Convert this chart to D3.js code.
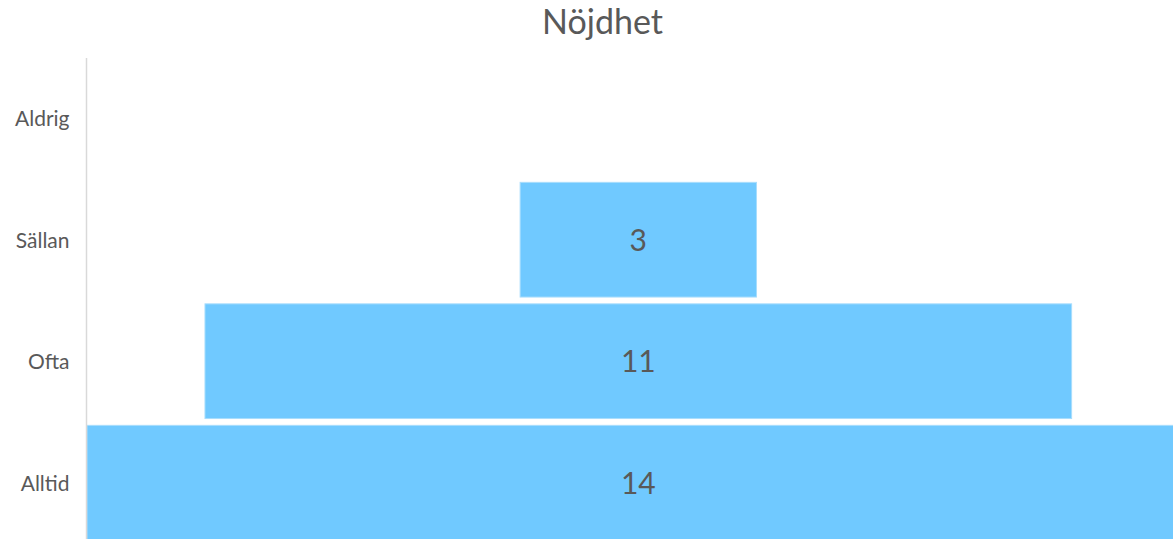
<!DOCTYPE html>
<html><head><meta charset="utf-8">
<script src="https://cdn.jsdelivr.net/npm/d3@7"></script>
<style>html,body{margin:0;padding:0;background:#fff;overflow:hidden}</style>
</head><body>
<svg id="c" width="1173" height="539"></svg>
<script>
const categories = ["Aldrig", "Sällan", "Ofta", "Alltid"];
const values = [0, 3, 11, 14];
const title = "Nöjdhet";

const W = 1173, H = 539;
const svg = d3.select("#c");
const font = "Lato, 'Open Sans', sans-serif";
const textColor = "#595959";

const axisX = 86.5;
const centerX = 638.3;
const y = d3.scaleBand().domain(categories).range([57.45, 543.45]).paddingInner(0.056).paddingOuter(0.028);
const w = d3.scaleLinear().domain([0, d3.max(values)]).range([0, 1103]);

svg.append("text").attr("x", 602.5).attr("y", 34).attr("text-anchor", "middle")
  .attr("font-family", font).attr("font-size", 34).attr("fill", textColor).text(title);

const data = categories.map((c, i) => ({c, v: values[i]}));

svg.append("clipPath").attr("id", "plot").append("rect")
  .attr("x", axisX).attr("y", 0).attr("width", W - axisX).attr("height", H);

const g = svg.append("g").attr("clip-path", "url(#plot)");
g.selectAll("rect.bar").data(data.filter(d => d.v > 0)).join("rect")
  .attr("class", "bar")
  .attr("x", d => centerX - w(d.v) / 2)
  .attr("y", d => y(d.c))
  .attr("width", d => w(d.v))
  .attr("height", y.bandwidth())
  .attr("fill", "#70C9FF")
  .attr("stroke", "#A8DDFD").attr("stroke-width", 1);

svg.selectAll("text.val").data(data.filter(d => d.v > 0)).join("text")
  .attr("class", "val")
  .attr("x", centerX)
  .attr("y", d => y(d.c) + y.bandwidth() / 2 + 11)
  .attr("text-anchor", "middle")
  .attr("font-family", font).attr("font-size", 30).attr("fill", textColor)
  .text(d => d.v);

svg.append("line").attr("x1", axisX).attr("x2", axisX).attr("y1", 58).attr("y2", H)
  .attr("stroke", "#D9D9D9").attr("stroke-width", 1.5);

svg.selectAll("text.cat").data(categories).join("text")
  .attr("class", "cat")
  .attr("x", 69.5)
  .attr("y", d => y(d) + y.bandwidth() / 2 + 8)
  .attr("text-anchor", "end")
  .attr("font-family", font).attr("font-size", 21).attr("fill", textColor)
  .text(d => d);
</script>
</body></html>
